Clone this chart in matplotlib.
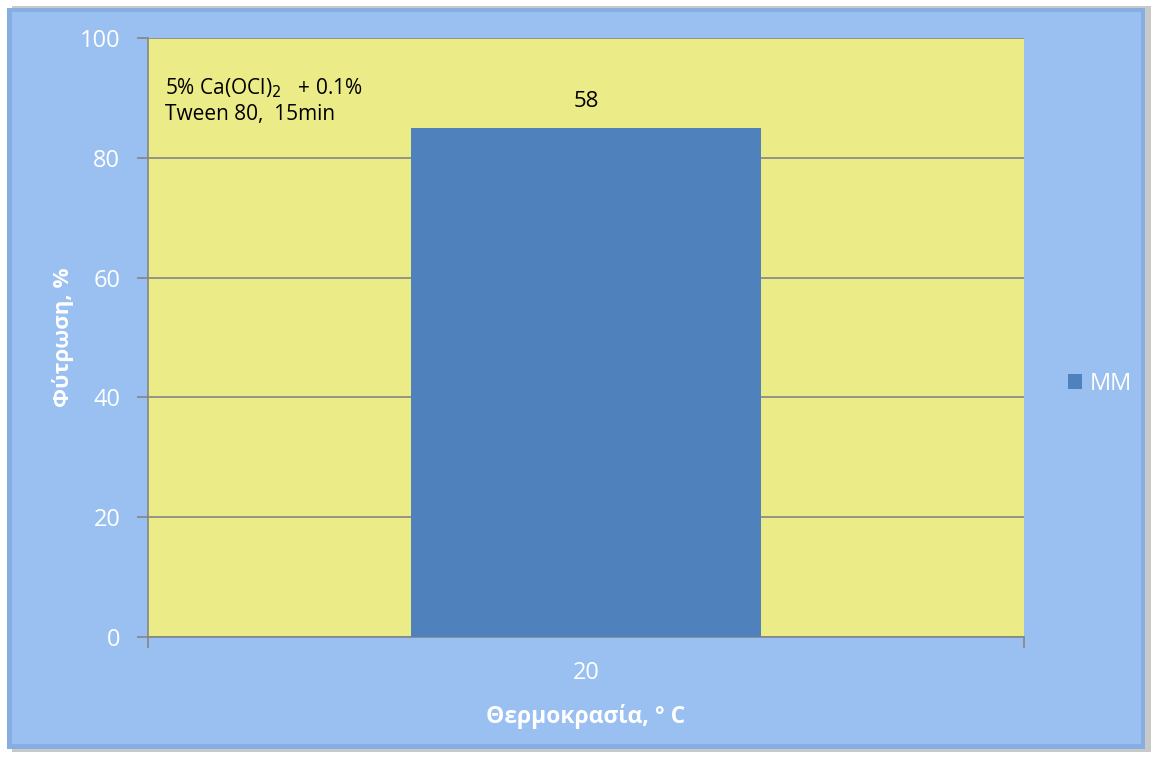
import matplotlib.pyplot as plt
from matplotlib.patches import Rectangle

categories = ['20']
values = [85]
bar_labels = ['58']
series_name = 'MM'
yticks = [0, 20, 40, 60, 80, 100]

plt.rcParams['font.family'] = ['Open Sans', 'DejaVu Sans']

fig = plt.figure(figsize=(11.57, 7.58), dpi=100)
fig.patch.set_facecolor('white')

# outer beveled panel
fig.patches.append(Rectangle((0.010, 0.008), 0.985, 0.984, transform=fig.transFigure,
                             facecolor='#c9c9c9', edgecolor='none', zorder=-3))
fig.patches.append(Rectangle((0.006, 0.012), 0.984, 0.978, transform=fig.transFigure,
                             facecolor='#86aee0', edgecolor='none', zorder=-2))
fig.patches.append(Rectangle((0.010, 0.018), 0.976, 0.966, transform=fig.transFigure,
                             facecolor='#99c0f0', edgecolor='none', zorder=-1))

ax = fig.add_axes([0.128, 0.1596, 0.757, 0.7904])
ax.set_facecolor('#ebeb87')

x = list(range(len(categories)))
bars = ax.bar(x, values, width=0.4, color='#4f81bd', zorder=3, label=series_name)
for b, lab in zip(bars, bar_labels):
    ax.text(b.get_x() + b.get_width() / 2, b.get_height() + 2.6, lab,
            ha='center', va='bottom', fontsize=16, color='black')

ax.set_xlim(-0.5, 0.5)
ax.set_ylim(0, 100)
ax.set_yticks(yticks)
ax.set_xticks(x)
ax.set_xticklabels(categories)
ax.grid(axis='y', color='#868686', linewidth=1.2, zorder=1)
ax.tick_params(axis='y', colors='#868686', labelcolor='white', labelsize=17,
               length=8, width=1.2, direction='out', pad=12)
ax.tick_params(axis='x', length=0, labelcolor='white', labelsize=17, pad=17)
# x ticks at the edges between categories
ax.set_xticks([-0.5, 0.5], minor=True)
ax.tick_params(axis='x', which='minor', length=8, width=1.2, colors='#868686')

for side in ['top', 'right']:
    ax.spines[side].set_visible(False)
for side in ['left', 'bottom']:
    ax.spines[side].set_color('#868686')
    ax.spines[side].set_linewidth(1.2)

ax.set_xlabel('Θερμοκρασία, ° C', fontsize=16.5, fontweight='bold', color='white', labelpad=14)
ax.set_ylabel('Φύτρωση, %', fontsize=16, fontweight='bold', color='white', labelpad=4)

ax.text(0.019, 0.935, '5% Ca(OCl)$_2$   + 0.1%\nTween 80,  15min', transform=ax.transAxes,
        ha='left', va='top', fontsize=15, color='black', linespacing=1.25)

leg = ax.legend(loc='center left', bbox_to_anchor=(1.05, 0.422), frameon=False,
                fontsize=17, handlelength=0.6, handleheight=0.6, handletextpad=0.35,
                borderaxespad=0, borderpad=0)
for t in leg.get_texts():
    t.set_color('white')

fig.savefig('out.png', dpi=100, facecolor=fig.get_facecolor())
